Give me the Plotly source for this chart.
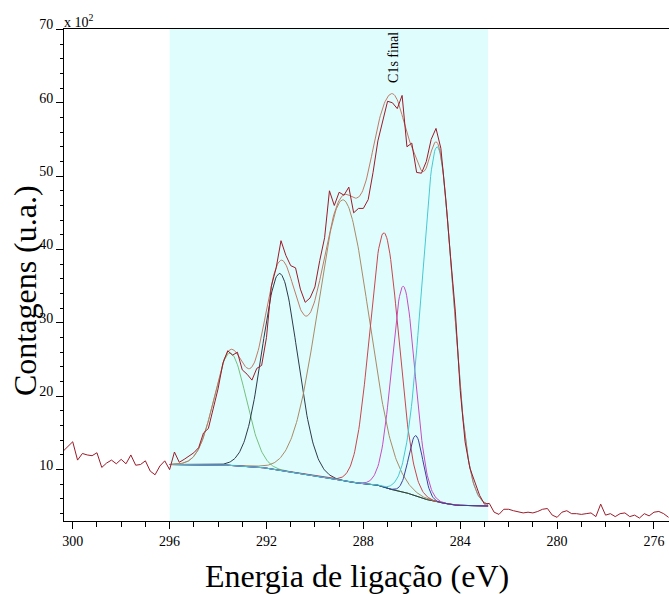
import numpy as np
import plotly.graph_objects as go

# C1s region scan: binding energy (eV), 0.2 eV step, high to low
energy = np.round(np.linspace(300.4, 275.4, 126), 2)
# Counts (x 10^2)
counts = [
    12.5, 13.1, 13.8, 11.3, 12.2, 12.0, 11.9, 12.3, 10.3, 10.9,
    11.3, 10.8, 11.4, 10.8, 12.0, 10.6, 10.7, 11.2, 9.8, 9.3,
    10.5, 11.2, 10.0, 12.4, 11.0, 11.4, 11.8, 12.3, 13.0, 15.0,
    15.6, 18.5, 21.0, 24.5, 26.2, 25.6, 26.0, 23.6, 23.0, 22.2,
    23.8, 24.2, 28.0, 35.0, 37.5, 41.2, 39.2, 37.8, 37.5, 34.6,
    32.8, 33.4, 34.9, 38.5, 41.6, 48.0, 46.0, 47.8, 47.4, 48.5,
    45.0, 45.6, 45.6, 46.8, 50.5, 54.8, 57.5, 60.2, 60.0, 59.2,
    61.0, 54.0, 54.5, 50.5, 50.4, 52.0, 55.0, 56.5, 53.8, 47.0,
    39.0, 31.5, 20.8, 13.8, 10.2, 8.2, 6.5, 5.3, 5.4, 4.2,
    3.9, 4.6, 4.6, 4.4, 4.2, 4.1, 4.2, 4.1, 4.3, 4.6,
    4.7, 3.8, 3.5, 4.2, 4.4, 4.0, 4.0, 3.9, 4.0, 4.1,
    3.6, 5.3, 3.8, 4.0, 3.6, 4.0, 4.1, 3.6, 3.8, 3.4,
    4.0, 3.7, 4.2, 4.3, 4.0, 3.5,
]

# Fit window and its background (x 10^2)
window = [296.0, 282.85]
bg_energy = [296.0, 295.4, 293.6, 292.3, 291.0, 289.7, 288.4, 287.5,
             287.0, 286.3, 285.6, 284.9, 284.2, 282.85]
bg_counts = [10.7, 10.7, 10.6, 10.35, 9.7, 9.0, 8.2, 8.0,
             7.4, 6.95, 6.1, 5.55, 5.15, 5.05]

# Fitted components: position (eV), height above background, FWHM (eV)
peak_center = [293.5, 291.45, 288.83, 287.14, 286.35, 285.83, 284.95]
peak_height = [15.3, 26.8, 38.3, 34.7, 28.0, 8.25, 48.4]
peak_fwhm = [1.55, 1.7, 2.45, 1.4, 1.13, 0.7, 1.5]
peak_color = ["#74c17f", "#2c3a48", "#a88b66", "#c8464e",
              "#c64cc4", "#3b3f9c", "#45c9d4"]

SERIF = "Liberation Serif, Times New Roman, serif"

e_fit = np.linspace(window[0], window[1], 400)
bg = np.interp(e_fit, bg_energy[::-1], bg_counts[::-1])


def gauss(e, c, h, w):
    return h * np.exp(-4.0 * np.log(2.0) * ((e - c) / w) ** 2)


fig = go.Figure()

fig.add_shape(type="rect", xref="x", yref="paper",
              x0=window[0], x1=window[1], y0=0, y1=1,
              fillcolor="#e0fdfd", line_width=0, layer="below")

fig.add_trace(go.Scatter(x=e_fit, y=bg, mode="lines",
                         line=dict(color="#9c8452", width=1)))

envelope = bg.copy()
for c, h, w, col in zip(peak_center, peak_height, peak_fwhm, peak_color):
    comp = gauss(e_fit, c, h, w)
    envelope = envelope + comp
    fig.add_trace(go.Scatter(x=e_fit, y=bg + comp, mode="lines",
                             line=dict(color=col, width=1)))

fig.add_trace(go.Scatter(x=e_fit, y=envelope, mode="lines",
                         line=dict(color="#c07a66", width=1)))
fig.add_trace(go.Scatter(x=energy, y=counts, mode="lines",
                         line=dict(color="#9b1b2a", width=1)))

fig.update_layout(
    width=669, height=594,
    margin=dict(l=64, r=0, t=29, b=73),
    paper_bgcolor="white", plot_bgcolor="white",
    showlegend=False,
    font=dict(family=SERIF, color="black", size=14),
    xaxis=dict(range=[300.36, 275.38], tick0=300, dtick=4,
               showline=True, linecolor="black", linewidth=1, mirror=True,
               ticks="outside", ticklen=7, tickcolor="black",
               minor=dict(dtick=1, tick0=300, ticks="outside", ticklen=5,
                          tickcolor="black"),
               showgrid=False, zeroline=False,
               tickfont=dict(family=SERIF, size=14)),
    yaxis=dict(range=[3, 70.05], tick0=0, dtick=10,
               showline=True, linecolor="black", linewidth=1,
               ticks="outside", ticklen=7, tickcolor="black",
               minor=dict(dtick=2, tick0=0, ticks="outside", ticklen=3,
                          tickcolor="black"),
               showgrid=False, zeroline=False, ticklabelshift=-5,
               tickfont=dict(family=SERIF, size=14)),
)

fig.add_annotation(text="Energia de ligação (eV)", xref="paper", yref="paper",
                   x=0.485, y=-0.112, xanchor="center", yanchor="middle",
                   showarrow=False, font=dict(family=SERIF, size=32))
fig.add_annotation(text="Contagens (u.a.)", xref="paper", yref="paper",
                   x=-0.0645, y=0.4695, xanchor="center", yanchor="middle",
                   textangle=-90, showarrow=False,
                   font=dict(family=SERIF, size=32))
fig.add_annotation(text="x 10<sup>2</sup>", xref="paper", yref="paper",
                   x=-0.003, y=1.016, xanchor="left", yanchor="middle",
                   showarrow=False, font=dict(family=SERIF, size=14))
fig.add_annotation(text="C1s final", xref="x", yref="paper",
                   x=286.76, y=0.942, xanchor="center", yanchor="middle",
                   textangle=-90, showarrow=False,
                   font=dict(family=SERIF, size=14))

fig.write_html("out.html")
